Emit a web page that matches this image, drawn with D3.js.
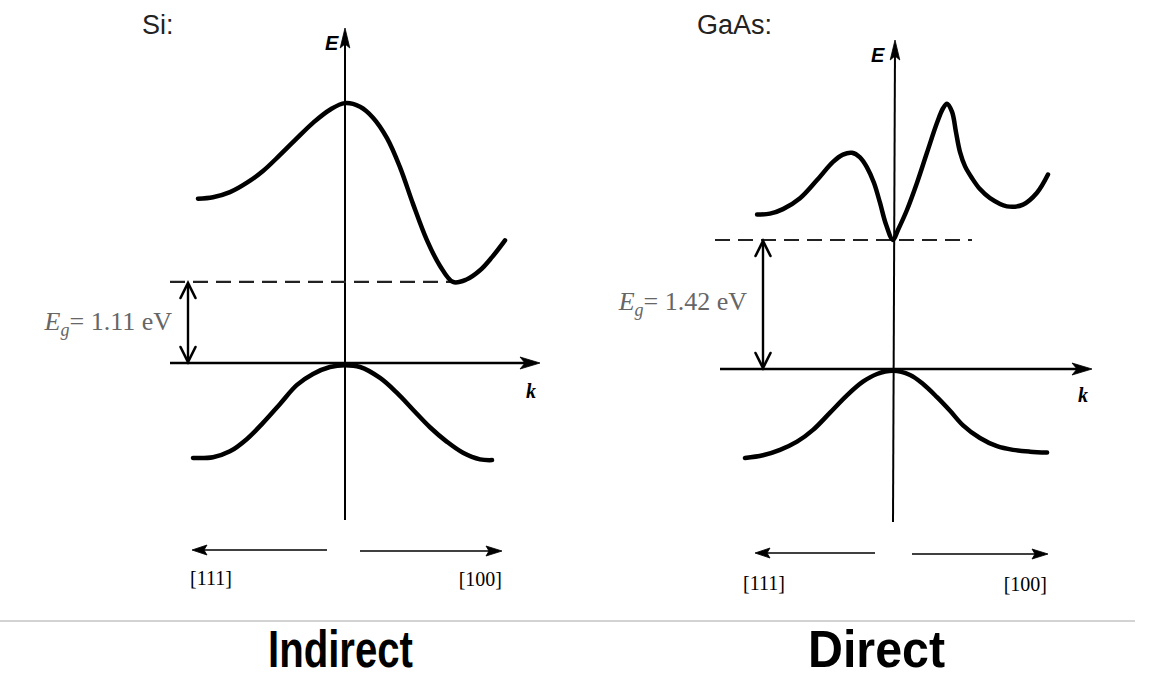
<!DOCTYPE html>
<html>
<head>
<meta charset="utf-8">
<script src="https://cdn.jsdelivr.net/npm/d3@7"></script>
<style>
  body { margin: 0; background: #fff; }
  svg { display: block; }
</style>
</head>
<body>
<svg id="chart" width="1151" height="678"></svg>
<script>
// ---- Band-structure data (k in reduced units, E in eV above valence-band top) ----
const materials = ["Si:", "GaAs:"];
const gapKinds = ["Indirect", "Direct"];
const bandGapsEV = [1.11, 1.42];
const directionLabels = ["[111]", "[100]"];

// Silicon conduction band (minimum off-centre toward [100])
const siCondK = [-0.919, -0.825, -0.719, -0.6125, -0.5125, -0.406, -0.30, -0.20, -0.094, 0, 0.094, 0.175, 0.2625, 0.344, 0.425, 0.5125, 0.594, 0.675, 0.756, 0.844, 0.919, 1.0];
const siCondE = [2.25, 2.27, 2.34, 2.47, 2.63, 2.85, 3.08, 3.29, 3.47, 3.56, 3.51, 3.36, 3.08, 2.68, 2.18, 1.68, 1.33, 1.11, 1.14, 1.27, 1.45, 1.68];
// Silicon valence band
const siValK = [-0.95, -0.825, -0.719, -0.6125, -0.5125, -0.406, -0.30, -0.20, -0.094, 0, 0.094, 0.219, 0.325, 0.425, 0.531, 0.6375, 0.7375, 0.844, 0.919];
const siValE = [-1.30, -1.29, -1.21, -1.04, -0.82, -0.56, -0.30, -0.15, -0.055, -0.03, -0.055, -0.205, -0.41, -0.64, -0.88, -1.08, -1.23, -1.32, -1.33];

// GaAs conduction band (minimum at k = 0)
const gaasCondK = [-0.877, -0.794, -0.71, -0.60, -0.49, -0.387, -0.323, -0.265, -0.213, -0.168, -0.123, -0.084, -0.045, 0, 0.032, 0.090, 0.155, 0.219, 0.284, 0.323, 0.348, 0.381, 0.406, 0.432, 0.465, 0.51, 0.561, 0.626, 0.735, 0.839, 0.929, 1.0];
const gaasCondE = [1.70, 1.71, 1.76, 1.88, 2.08, 2.28, 2.36, 2.38, 2.33, 2.22, 2.05, 1.83, 1.59, 1.42, 1.53, 1.75, 2.05, 2.38, 2.71, 2.87, 2.92, 2.83, 2.61, 2.39, 2.23, 2.10, 1.98, 1.88, 1.79, 1.81, 1.94, 2.14];
// GaAs valence band
const gaasValK = [-0.955, -0.839, -0.729, -0.619, -0.516, -0.406, -0.297, -0.194, -0.103, 0, 0.110, 0.194, 0.284, 0.368, 0.452, 0.561, 0.671, 0.774, 0.884, 0.994];
const gaasValE = [-0.98, -0.95, -0.89, -0.80, -0.67, -0.48, -0.29, -0.14, -0.055, -0.02, -0.066, -0.165, -0.31, -0.46, -0.62, -0.76, -0.85, -0.89, -0.91, -0.92];

const zip = (ks, es) => ks.map((k, i) => ({ k, E: es[i] }));

// ---- Panel layout ----
const panels = [
  {
    title: materials[0], titleX: 142, titleY: 34,
    cx: 345, y0: 363, pxPerK: 160, pxPerEV: 73,
    kAxis: [170, 540], eAxis: [520, 28], eAxisTopX: 345,
    eLabel: [325, 50], kLabel: [526, 398],
    dash: [170, 452], gapArrowX: 188,
    gapLabel: [172, 330],
    dirY: 550, leftArrow: [327, 192], rightArrow: [360, 502],
    dirLabelY: 585, dirLabelX: [190, 502],
    kindX: 340.5, kindW: 145,
    cond: zip(siCondK, siCondE), val: zip(siValK, siValE),
    gap: bandGapsEV[0], kind: gapKinds[0]
  },
  {
    title: materials[1], titleX: 697, titleY: 34,
    cx: 893, y0: 369, pxPerK: 155, pxPerEV: 90.85,
    kAxis: [720, 1092], eAxis: [522, 40], eAxisTopX: 895,
    eLabel: [871, 62], kLabel: [1078, 402],
    dash: [715, 972], gapArrowX: 763,
    gapLabel: [747, 310],
    dirY: 553, leftArrow: [875, 755], rightArrow: [912, 1048],
    dirLabelY: 590, dirLabelX: [743, 1047],
    kindX: 876.5, kindW: 137,
    cond: zip(gaasCondK, gaasCondE), val: zip(gaasValK, gaasValE),
    gap: bandGapsEV[1], kind: gapKinds[1]
  }
];

const svg = d3.select("#chart");
const ink = "#000";

// arrowhead helpers; (ux,uy) is the unit direction toward the tip
function filledHead(g, tx, ty, ux, uy, len, halfW, notch) {
  const px = -uy, py = ux;
  const bx = tx - ux * len, by = ty - uy * len;
  const pts = [
    [tx, ty],
    [bx + px * halfW, by + py * halfW],
    [tx - ux * (len - notch), ty - uy * (len - notch)],
    [bx - px * halfW, by - py * halfW]
  ];
  g.append("path").attr("d", "M" + pts.map(p => p.join(",")).join("L") + "Z")
    .attr("fill", ink).attr("stroke", ink).attr("stroke-width", 0.8)
    .attr("stroke-linejoin", "miter");
}
function openHead(g, tx, ty, ux, uy, len, halfW) {
  const px = -uy, py = ux;
  const bx = tx - ux * len, by = ty - uy * len;
  g.append("path")
    .attr("d", `M${bx + px * halfW},${by + py * halfW}L${tx},${ty}L${bx - px * halfW},${by - py * halfW}`)
    .attr("fill", "none").attr("stroke", ink).attr("stroke-width", 2.6)
    .attr("stroke-linejoin", "miter").attr("stroke-linecap", "round");
}

panels.forEach(p => {
  const g = svg.append("g");
  const x = d3.scaleLinear().domain([-1, 1]).range([p.cx - p.pxPerK, p.cx + p.pxPerK]);
  const y = d3.scaleLinear().domain([0, 1]).range([p.y0, p.y0 - p.pxPerEV]);
  const yGap = y(p.gap);

  // material title
  g.append("text").attr("x", p.titleX).attr("y", p.titleY)
    .attr("font-family", "'Liberation Sans', Arial, sans-serif")
    .attr("font-size", 27).attr("fill", "#222").text(p.title);

  // E axis
  g.append("line").attr("x1", p.cx).attr("y1", p.eAxis[0])
    .attr("x2", p.eAxisTopX).attr("y2", p.eAxis[1] + 6)
    .attr("stroke", ink).attr("stroke-width", 2);
  filledHead(g, p.eAxisTopX, p.eAxis[1], 0, -1, 20, 4.8, 4);
  g.append("text").attr("x", p.eLabel[0]).attr("y", p.eLabel[1])
    .attr("font-family", "'Liberation Sans', Arial, sans-serif")
    .attr("font-weight", "bold").attr("font-style", "italic")
    .attr("font-size", 20).attr("fill", ink).text("E");

  // k axis (valence-band top)
  g.append("line").attr("x1", p.kAxis[0]).attr("y1", p.y0)
    .attr("x2", p.kAxis[1] - 8).attr("y2", p.y0)
    .attr("stroke", ink).attr("stroke-width", 2.5);
  filledHead(g, p.kAxis[1], p.y0, 1, 0, 20, 6, 5);
  g.append("text").attr("x", p.kLabel[0]).attr("y", p.kLabel[1])
    .attr("font-family", "'Liberation Serif', 'Times New Roman', serif")
    .attr("font-weight", "bold").attr("font-style", "italic")
    .attr("font-size", 20).attr("fill", ink).text("k");

  // conduction-band minimum level
  g.append("line").attr("x1", p.dash[0]).attr("y1", yGap)
    .attr("x2", p.dash[1]).attr("y2", yGap)
    .attr("stroke", "#222").attr("stroke-width", 2.2)
    .attr("stroke-dasharray", "15,8");

  // band-gap double arrow
  g.append("line").attr("x1", p.gapArrowX).attr("y1", yGap + 2)
    .attr("x2", p.gapArrowX).attr("y2", p.y0 - 2)
    .attr("stroke", ink).attr("stroke-width", 2.4);
  openHead(g, p.gapArrowX, yGap + 1, 0, -1, 15, 7.5);
  openHead(g, p.gapArrowX, p.y0 - 1, 0, 1, 15, 7.5);

  // band-gap label
  const lab = g.append("text").attr("x", p.gapLabel[0]).attr("y", p.gapLabel[1])
    .attr("text-anchor", "end")
    .attr("font-family", "'Liberation Serif', 'Times New Roman', serif")
    .attr("font-size", 26).attr("fill", "#666");
  lab.append("tspan").attr("font-style", "italic").text("E");
  lab.append("tspan").attr("font-style", "italic").attr("font-size", 18).attr("dy", 6).text("g");
  lab.append("tspan").attr("dy", -6).text("= " + p.gap.toFixed(2) + " eV");

  // bands
  const line = d3.line().x(d => x(d.k)).y(d => y(d.E)).curve(d3.curveCatmullRom.alpha(0.5));
  [p.cond, p.val].forEach(band => {
    g.append("path").attr("d", line(band))
      .attr("fill", "none").attr("stroke", ink).attr("stroke-width", 4.5)
      .attr("stroke-linecap", "round").attr("stroke-linejoin", "round");
  });

  // crystal direction arrows
  g.append("line").attr("x1", p.leftArrow[0]).attr("y1", p.dirY)
    .attr("x2", p.leftArrow[1] + 8).attr("y2", p.dirY)
    .attr("stroke", ink).attr("stroke-width", 1.6);
  filledHead(g, p.leftArrow[1], p.dirY, -1, 0, 15, 5, 3);
  g.append("line").attr("x1", p.rightArrow[0]).attr("y1", p.dirY + 1)
    .attr("x2", p.rightArrow[1] - 8).attr("y2", p.dirY + 1)
    .attr("stroke", ink).attr("stroke-width", 1.6);
  filledHead(g, p.rightArrow[1], p.dirY + 1, 1, 0, 16, 5, 3);

  g.append("text").attr("x", p.dirLabelX[0]).attr("y", p.dirLabelY)
    .attr("font-family", "'Liberation Serif', 'Times New Roman', serif")
    .attr("font-size", 20).attr("fill", ink).text(directionLabels[0]);
  g.append("text").attr("x", p.dirLabelX[1]).attr("y", p.dirLabelY + 1)
    .attr("text-anchor", "end")
    .attr("font-family", "'Liberation Serif', 'Times New Roman', serif")
    .attr("font-size", 20).attr("fill", ink).text(directionLabels[1]);

  // gap type caption
  g.append("text").attr("x", p.kindX).attr("y", 667)
    .attr("text-anchor", "middle")
    .attr("font-family", "'Liberation Sans Narrow', 'Arial Narrow', 'Liberation Sans', sans-serif")
    .attr("font-weight", "bold").attr("font-size", 52)
    .attr("textLength", p.kindW).attr("lengthAdjust", "spacingAndGlyphs")
    .attr("fill", "#000").text(p.kind);
});

// separator above the captions
svg.append("line").attr("x1", 0).attr("y1", 621).attr("x2", 1135).attr("y2", 621)
  .attr("stroke", "#c4c4c4").attr("stroke-width", 1.5);
</script>
</body>
</html>
